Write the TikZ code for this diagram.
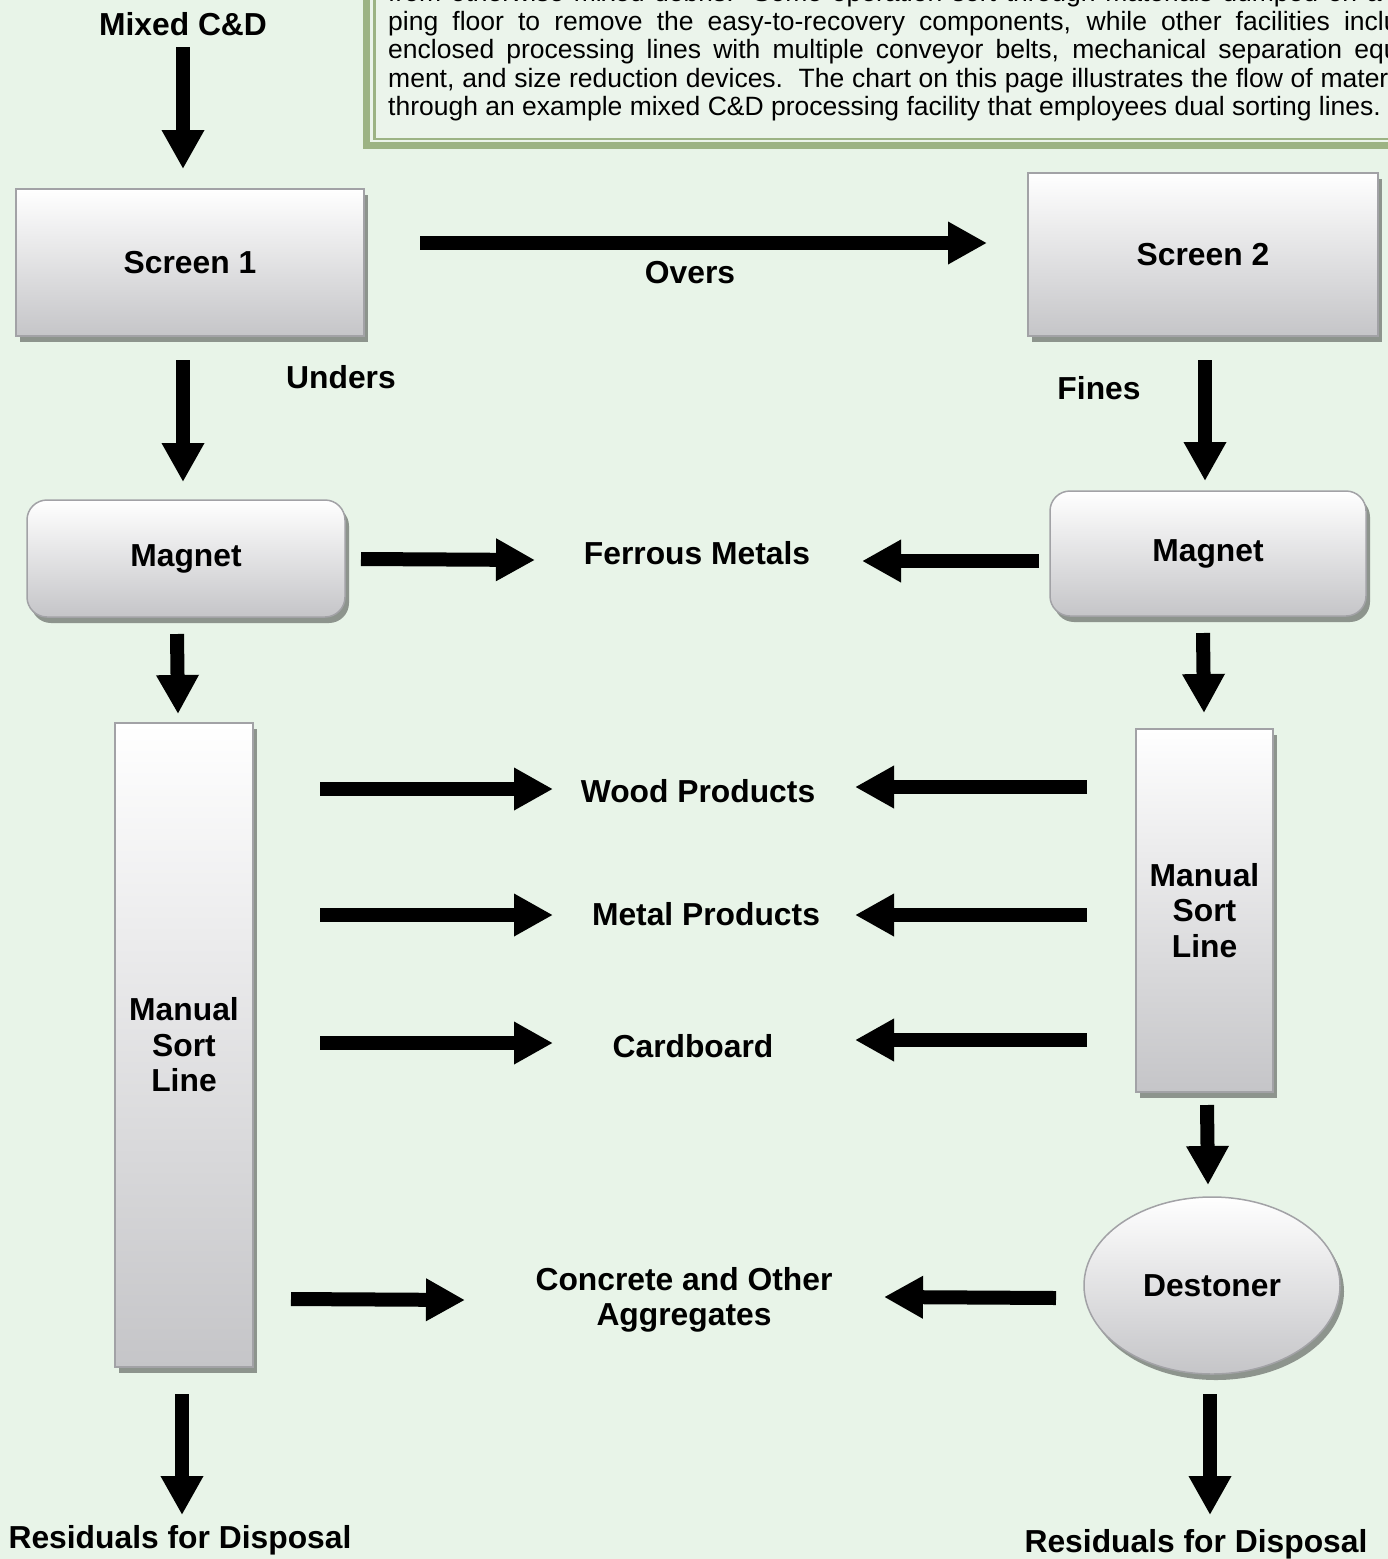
\documentclass[tikz,border=0pt]{standalone}
\usepackage{fontspec}
\setmainfont{Liberation Sans}
\usetikzlibrary{arrows.meta,shadows,shapes.geometric}
\definecolor{bg}{HTML}{E8F4E8}
\definecolor{boxbg}{HTML}{EBF4EB}
\definecolor{frame}{HTML}{9CB384}
\definecolor{boxline}{HTML}{A2A2A6}
\definecolor{boxbot}{HTML}{C5C5C8}
\definecolor{shade}{HTML}{8D948D}
\begin{document}
\begin{tikzpicture}[x=1pt,y=-1pt,
  box/.style={draw=boxline, line width=1.5pt, top color=white, bottom color=boxbot,
    inner sep=0pt, align=center,
    drop shadow={shadow xshift=4pt,shadow yshift=-6pt,fill=shade,opacity=1},
    font=\fontsize{31.8}{35.5}\selectfont\bfseries},
  lbl/.style={font=\fontsize{31.8}{34.5}\selectfont\bfseries, align=center, inner sep=0pt},
  txt/.style={font=\fontsize{26.5}{28.5}\selectfont, inner sep=0pt, anchor=base west},
  blk/.style={line width=14pt, -{Triangle[width=40pt,length=39pt]}},
]
\path[use as bounding box] (0,0) rectangle (1388,1559);
\clip (0,0) rectangle (1388,1559);
\fill[bg] (0,0) rectangle (1388,1559);

% description box
\fill[boxbg] (366.5,-20) rectangle (1420,145);
\draw[frame, line width=7pt] (366.5,-20) -- (366.5,145) -- (1420,145);
\draw[frame, line width=2.5pt] (374.5,-20) -- (374.5,139) -- (1420,139);
\node[txt] (t1) at (388,1.5) {\makebox[1040pt][s]{from otherwise mixed debris.\ \ Some operation sort through materials dumped on a tip-}};
\node[txt] (t2) at (388,30) {\makebox[1040pt][s]{ping floor to remove the easy-to-recovery components, while other facilities include}};
\node[txt] (t3) at (388,58.5) {\makebox[1040pt][s]{enclosed processing lines with multiple conveyor belts, mechanical separation equip-}};
\node[txt] (t4) at (388,87) {\makebox[1040pt][s]{ment, and size reduction devices.\ \ The chart on this page illustrates the flow of materials}};
\node[txt] (t5) at (388,115.5) {through an example mixed C\&D processing facility that employees dual sorting lines.};

% process nodes
\node[box, minimum width=348pt, minimum height=147pt] (s1) at (190,262.5) {Screen 1};
\node[box, minimum width=350pt, minimum height=163pt] (s2) at (1203,254.5) {Screen 2};
\node[box, rounded corners=20pt, minimum width=318pt, minimum height=117pt] (m1) at (186,558.5) {Magnet};
\node[box, rounded corners=20pt, minimum width=316pt, minimum height=125pt] (m2) at (1208,553.5) {Magnet};
\node[box, minimum width=138pt, minimum height=644pt] (ms1) at (184,1045) {Manual\\Sort\\Line};
\node[box, minimum width=137pt, minimum height=363pt] (ms2) at (1204.5,910.5) {Manual\\Sort\\Line};
\node[box, ellipse, minimum width=256pt, minimum height=177pt, drop shadow={shadow xshift=3pt,shadow yshift=-4pt,fill=shade,opacity=1}] (ds) at (1212,1285.5) {Destoner};

% labels
\node[lbl] (mixed) at (183,24) {Mixed C\&D};
\node[lbl] (overs) at (690,273) {Overs};
\node[lbl] (unders) at (341,377) {Unders};
\node[lbl] (fines) at (1099,388) {Fines};
\node[lbl] (ferrous) at (697,553) {Ferrous Metals};
\node[lbl] (wood) at (698,791) {Wood Products};
\node[lbl] (metal) at (706,914) {Metal Products};
\node[lbl] (card) at (693,1046) {Cardboard};
\node[lbl] (conc) at (684,1300) {Concrete and Other\\Aggregates};
\node[lbl] (resL) at (180,1540) {Residuals for Disposal};
\node[lbl] (resR) at (1196,1544) {Residuals for Disposal};

% arrow end points
\coordinate (a1s) at (183,47);    \coordinate (a1e) at (183,169);
\coordinate (a2s) at (183,360);   \coordinate (a2e) at (183,482);
\coordinate (a3s) at (420,243);   \coordinate (a3e) at (987,243);
\coordinate (a4s) at (1205,360);  \coordinate (a4e) at (1205,481);
\coordinate (a5s) at (361,559);   \coordinate (a5e) at (535,560);
\coordinate (a6s) at (1039,561);  \coordinate (a6e) at (862,561);
\coordinate (a7s) at (177,634);   \coordinate (a7e) at (178,714);
\coordinate (a8s) at (1203,633);  \coordinate (a8e) at (1204,713);
\coordinate (a9s) at (320,789);   \coordinate (a9e) at (553,789);
\coordinate (a10s) at (1087,787); \coordinate (a10e) at (855,787);
\coordinate (a11s) at (320,915);  \coordinate (a11e) at (553,915);
\coordinate (a12s) at (1087,915); \coordinate (a12e) at (855,915);
\coordinate (a13s) at (320,1043); \coordinate (a13e) at (553,1043);
\coordinate (a14s) at (1087,1040);\coordinate (a14e) at (855,1040);
\coordinate (a15s) at (1207,1105);\coordinate (a15e) at (1208,1185);
\coordinate (a16s) at (291,1299); \coordinate (a16e) at (465,1300);
\coordinate (a17s) at (1056,1298);\coordinate (a17e) at (884,1297);
\coordinate (a18s) at (182,1394); \coordinate (a18e) at (182,1515);
\coordinate (a19s) at (1210,1394);\coordinate (a19e) at (1210,1515);

\foreach \i in {1,...,19} {\draw[blk] (a\i s) -- (a\i e);}
\end{tikzpicture}
\end{document}
